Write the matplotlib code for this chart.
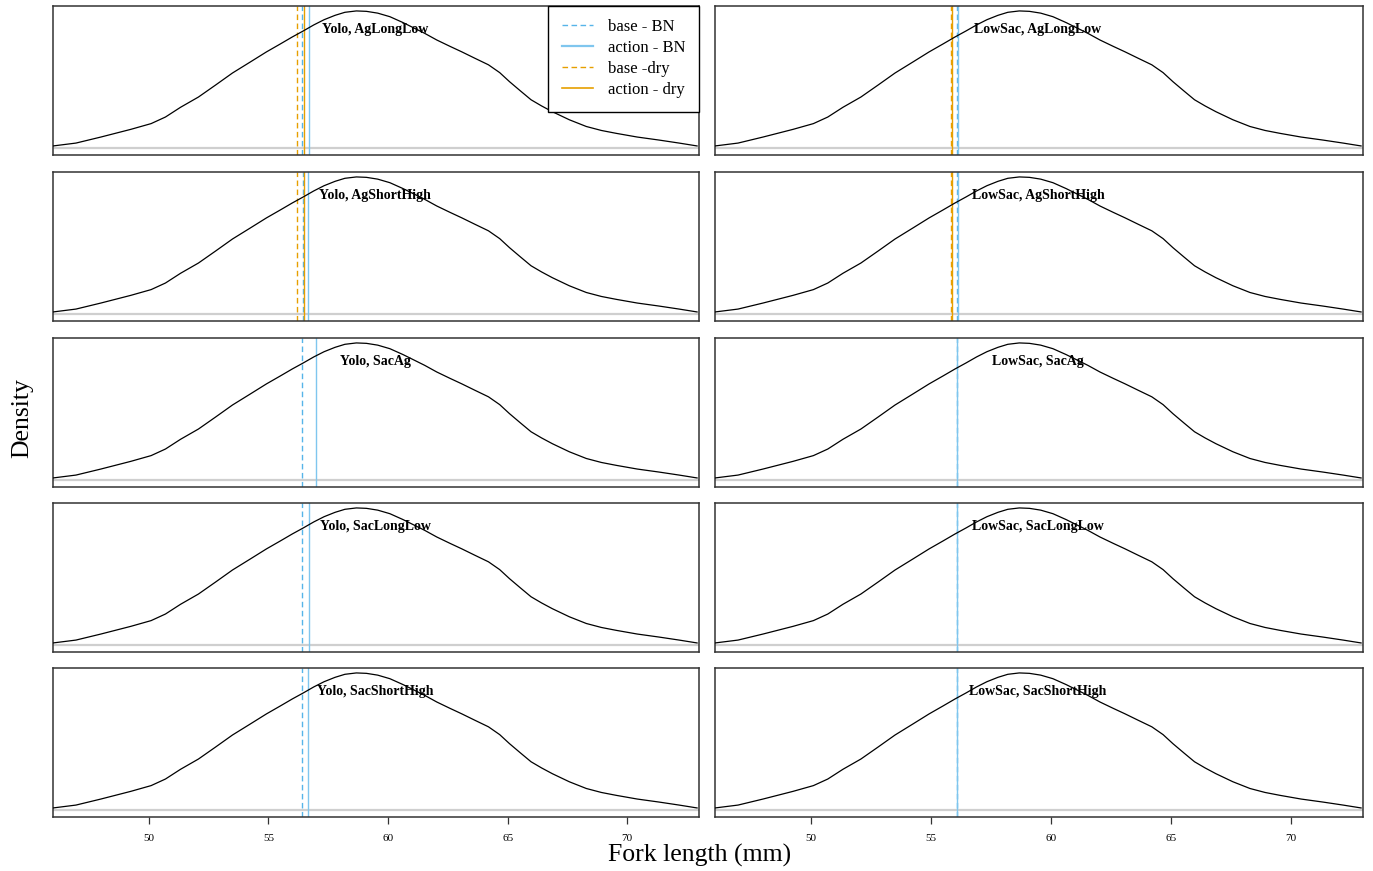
import numpy as np
import matplotlib
matplotlib.use("Agg")
import matplotlib.pyplot as plt
from matplotlib.lines import Line2D

plt.rcParams['font.family'] = ['Liberation Serif', 'DejaVu Serif']

# ---- data ----
fork_length = [46.0, 46.96, 48.0, 49.25, 50.1, 50.7, 51.33, 52.08, 52.8, 53.5,
               54.25, 54.92, 55.5, 56.0, 56.46, 56.9, 57.33, 57.79, 58.2, 58.68,
               59.1, 59.57, 60.08, 60.63, 61.08, 61.53, 62.04, 62.6, 63.08, 63.63,
               64.2, 64.67, 65.08, 65.54, 65.98, 66.42, 66.87, 67.58, 68.29, 68.92,
               69.54, 70.42, 71.33, 72.17, 72.92]
density = [0.0015, 0.0036, 0.0080, 0.0136, 0.0178, 0.0226, 0.0297, 0.0372, 0.0460, 0.0547,
           0.0628, 0.0701, 0.0759, 0.0810, 0.0854, 0.0898, 0.0936, 0.0968, 0.0990, 0.1000,
           0.0997, 0.0984, 0.0958, 0.0915, 0.0876, 0.0837, 0.0788, 0.0741, 0.0702, 0.0655,
           0.0607, 0.0550, 0.0484, 0.0416, 0.0352, 0.0307, 0.0265, 0.0206, 0.0157, 0.0128,
           0.0107, 0.0080, 0.0058, 0.0036, 0.0015]

regions = ["Yolo", "LowSac"]
scenarios = ["AgLongLow", "AgShortHigh", "SacAg", "SacLongLow", "SacShortHigh"]

# vertical line positions (mm) per region, per scenario
base_BN = {"Yolo": [56.42, 56.43, 56.42, 56.42, 56.40],
           "LowSac": [56.07, 56.07, 56.09, 56.09, 56.09]}
action_BN = {"Yolo": [56.68, 56.64, 57.00, 56.72, 56.64],
             "LowSac": [56.13, 56.11, 56.10, 56.10, 56.10]}
base_dry = {"Yolo": [56.20, 56.20, np.nan, np.nan, np.nan],
            "LowSac": [55.82, 55.82, np.nan, np.nan, np.nan]}
action_dry = {"Yolo": [56.51, 56.47, np.nan, np.nan, np.nan],
              "LowSac": [55.89, 55.88, np.nan, np.nan, np.nan]}

xticks = [50, 55, 60, 65, 70]
legend_labels = ["base - BN", "action - BN", "base -dry", "action - dry"]

# ---- styling ----
W, H = 1373, 871
fig = plt.figure(figsize=(W / 100, H / 100), dpi=100)

col_x = [(53, 699), (715, 1363)]
row_tops = [6, 172, 338, 503, 668]
row_h = 149

blue = "#56B4E9"
blue_l = "#7FC6EE"
orange = "#E69F00"
dash = (0, (4, 2.5))

for ci, reg in enumerate(regions):
    x0, x1 = col_x[ci]
    for ri, sc in enumerate(scenarios):
        top = row_tops[ri]
        ax = fig.add_axes([x0 / W, 1 - (top + row_h) / H, (x1 - x0) / W, row_h / H])
        ax.axhline(0, color="#cfcfcf", lw=1.6, zorder=1)
        ax.plot(fork_length, density, color="black", lw=0.9, zorder=3,
                solid_joinstyle="round")
        ax.axvline(base_BN[reg][ri], color=blue, lw=1.0, ls=dash, zorder=2)
        ax.axvline(action_BN[reg][ri], color=blue_l, lw=1.0, zorder=2)
        v = base_dry[reg][ri]
        if not np.isnan(v):
            ax.axvline(v, color=orange, lw=1.0, ls=dash, zorder=2)
        v = action_dry[reg][ri]
        if not np.isnan(v):
            ax.axvline(v, color=orange, lw=1.0, zorder=2)
        ax.set_xlim(46.0, 73.0)
        ax.set_ylim(-0.0051, 0.1036)
        ax.set_yticks([])
        for s in ax.spines.values():
            s.set_color("#333333")
            s.set_linewidth(1.1)
        if ri == 4:
            ax.set_xticks(xticks)
            ax.set_xticklabels([str(t) for t in xticks], fontsize=8)
            ax.tick_params(axis="x", length=5, width=0.9, pad=7, color="#333333")
        else:
            ax.set_xticks([])
        ax.text(59.46, 0.0862, f"{reg}, {sc}", ha="center", va="center",
                fontsize=10, fontweight="bold", zorder=4)
        if ci == 0 and ri == 0:
            handles = [Line2D([], [], color=blue, lw=1.0, ls=dash),
                       Line2D([], [], color=blue_l, lw=1.6),
                       Line2D([], [], color=orange, lw=1.0, ls=dash),
                       Line2D([], [], color=orange, lw=1.2)]
            leg = ax.legend(handles, legend_labels, loc="upper right", borderaxespad=0,
                            fancybox=False, edgecolor="black", fontsize=12,
                            handlelength=1.9, handletextpad=0.9, labelspacing=0.3,
                            borderpad=0.8, framealpha=1)
            leg.get_frame().set_linewidth(1.0)

fig.text(700 / W, 1 - 855 / H, "Fork length (mm)", ha="center", va="center", fontsize=18.5)
fig.text(22 / W, 1 - 418 / H, "Density", ha="center", va="center", rotation=90, fontsize=18.5)

fig.savefig("out.png", dpi=100)
